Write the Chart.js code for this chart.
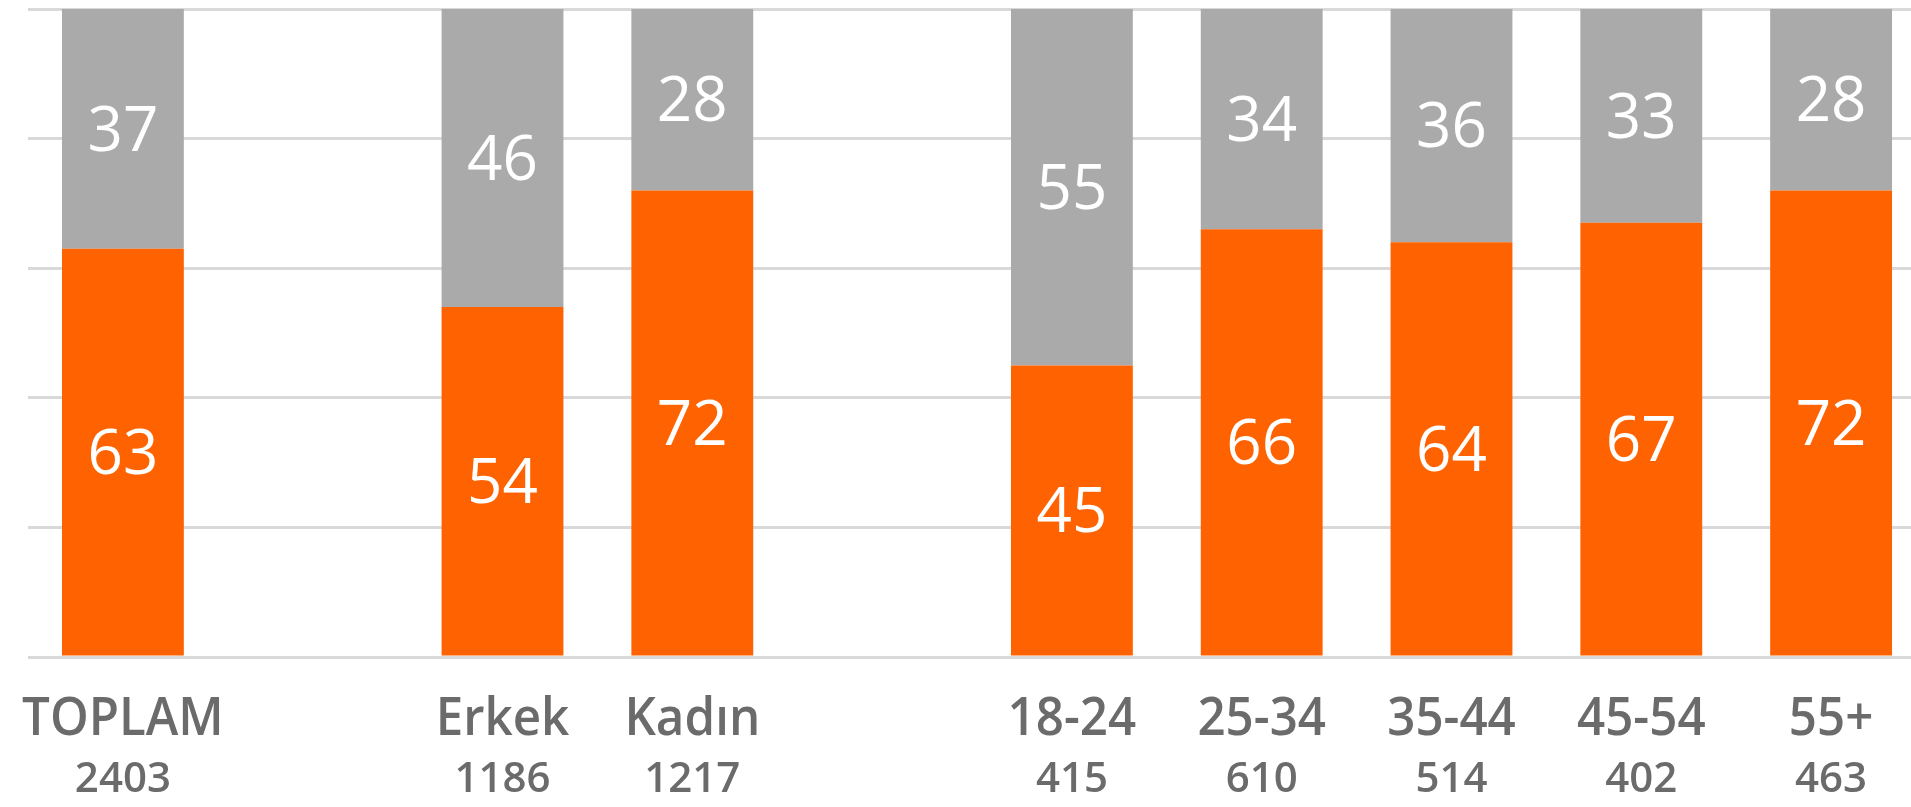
<!DOCTYPE html>
<html lang="tr">
<head>
<meta charset="UTF-8">
<title>Grafik</title>
<script src="https://cdn.jsdelivr.net/npm/chart.js"></script>
<style>
  html, body { margin: 0; padding: 0; background: #fff; overflow: hidden; }
  .wrap { width: 1932px; height: 807px; position: relative; }
</style>
</head>
<body>
<div class="wrap"><canvas id="chart"></canvas></div>
<script>
// kategoriler (boş olanlar gruplar arası boşluk)
const categories = ['TOPLAM', '', 'Erkek', 'Kadın', '', '18-24', '25-34', '35-44', '45-54', '55+'];
const sampleSizes = ['2403', '', '1186', '1217', '', '415', '610', '514', '402', '463'];
const orangeValues = [63, null, 54, 72, null, 45, 66, 64, 67, 72];
const greyValues = [37, null, 46, 28, null, 55, 34, 36, 33, 28];

const ORANGE = '#ff6200';
const GREY = '#aaaaaa';
const LABEL = '#6b6b6b';

// segment içindeki beyaz değerler
const valueLabels = {
  id: 'valueLabels',
  afterDatasetsDraw(chart) {
    const ctx = chart.ctx;
    ctx.save();
    ctx.fillStyle = '#fff';
    ctx.font = '500 62px "Open Sans", sans-serif';
    ctx.textAlign = 'center';
    ctx.textBaseline = 'middle';
    chart.data.datasets.forEach((ds, i) => {
      chart.getDatasetMeta(i).data.forEach((bar, j) => {
        const v = ds.data[j];
        if (v == null) return;
        const p = bar.getProps(['x', 'y', 'base'], true);
        ctx.fillText(String(v), p.x, (p.y + p.base) / 2 + 4);
      });
    });
    ctx.restore();
  }
};

// iki satırlı eksen etiketleri (farklı boyutlar)
const axisLabels = {
  id: 'axisLabels',
  afterDraw(chart) {
    const ctx = chart.ctx;
    const xs = chart.scales.x;
    const bottom = chart.chartArea.bottom;
    ctx.save();
    ctx.fillStyle = LABEL;
    ctx.textAlign = 'center';
    ctx.textBaseline = 'alphabetic';
    categories.forEach((c, i) => {
      if (!c) return;
      const x = xs.getPixelForValue(i);
      ctx.save();
      ctx.translate(x, bottom + 78);
      ctx.scale(0.93, 1);
      ctx.font = '600 53px "Open Sans", sans-serif';
      ctx.fillText(c, 0, 0);
      ctx.restore();
      ctx.save();
      ctx.translate(x, bottom + 135);
      ctx.font = '600 42px "Open Sans", sans-serif';
      ctx.fillText(sampleSizes[i], 0, 0);
      ctx.restore();
    });
    ctx.restore();
  }
};

new Chart(document.getElementById('chart'), {
  type: 'bar',
  data: {
    labels: categories,
    datasets: [
      { label: 'A', data: orangeValues, backgroundColor: ORANGE, barPercentage: 0.642, categoryPercentage: 1 },
      { label: 'B', data: greyValues, backgroundColor: GREY, barPercentage: 0.642, categoryPercentage: 1 }
    ]
  },
  options: {
    responsive: true,
    maintainAspectRatio: false,
    animation: false,
    layout: { padding: { left: 28, right: 6, top: 9, bottom: 150 } },
    plugins: { legend: { display: false }, tooltip: { enabled: false } },
    scales: {
      x: { stacked: true, display: false },
      y: {
        stacked: true,
        min: 0,
        max: 100,
        ticks: { display: false, stepSize: 20 },
        grid: { color: '#d9d9d9', lineWidth: 3, drawTicks: false },
        border: { display: false }
      }
    }
  },
  plugins: [valueLabels, axisLabels]
});
</script>
</body>
</html>
